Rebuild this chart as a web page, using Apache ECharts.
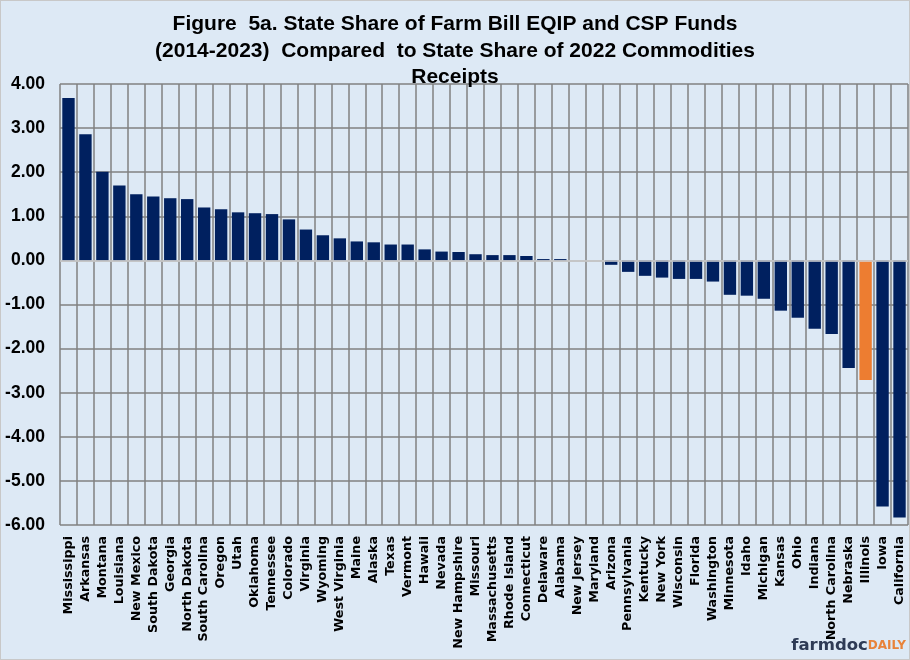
<!DOCTYPE html>
<html><head><meta charset="utf-8">
<script src="https://cdn.jsdelivr.net/npm/echarts@6/dist/echarts.min.js"></script>
<style>
html,body{margin:0;padding:0;background:#dde9f5;}
#c{width:908px;height:658px;border:1px solid #c8c8c8;}
</style></head>
<body><div id="c"></div>
<script>
const states = ["Mississippi","Arkansas","Montana","Louisiana","New Mexico","South Dakota","Georgia","North Dakota","South Carolina","Oregon","Utah","Oklahoma","Tennessee","Colorado","Virginia","Wyoming","West Virginia","Maine","Alaska","Texas","Vermont","Hawaii","Nevada","New Hampshire","Missouri","Massachusetts","Rhode Island","Connecticut","Delaware","Alabama","New Jersey","Maryland","Arizona","Pennsylvania","Kentucky","New York","Wisconsin","Florida","Washington","Minnesota","Idaho","Michigan","Kansas","Ohio","Indiana","North Carolina","Nebraska","Illinois","Iowa","California"];
const shareDiff = [3.68,2.86,2.01,1.70,1.50,1.45,1.41,1.39,1.20,1.16,1.09,1.07,1.05,0.93,0.70,0.57,0.50,0.43,0.41,0.36,0.36,0.25,0.20,0.19,0.14,0.12,0.12,0.10,0.03,0.03,0.00,0.00,-0.10,-0.26,-0.35,-0.39,-0.42,-0.42,-0.48,-0.78,-0.80,-0.87,-1.14,-1.30,-1.55,-1.67,-2.44,-2.71,-5.58,-5.83];
const highlightState = "Illinois";
const yTicks = {min:-6, max:4, interval:1};

const chart = echarts.init(document.getElementById('c'));
chart.setOption({
  backgroundColor:'#dde9f5',
  animation:false,
  title:{
    text:'Figure  5a. State Share of Farm Bill EQIP and CSP Funds\n(2014-2023)  Compared  to State Share of 2022 Commodities\nReceipts',
    left:'center', top:5,
    textStyle:{fontFamily:'Liberation Sans, Arial', fontWeight:'bold', fontSize:21, lineHeight:26.5, color:'#000'}
  },
  grid:{left:59, right:1, top:83, bottom:134, containLabel:false},
  xAxis:{
    type:'category', data:states,
    axisTick:{show:false},
    axisLine:{show:false},
    splitLine:{show:true, lineStyle:{color:'#808080', width:1.5}},
    axisLabel:{rotate:90, interval:0, margin:11, fontFamily:'DejaVu Sans', fontWeight:'bold', fontSize:12.7, color:'#000'}
  },
  yAxis:{
    type:'value', min:yTicks.min, max:yTicks.max, interval:yTicks.interval,
    axisLine:{show:false}, axisTick:{show:false},
    splitLine:{lineStyle:{color:'#808080', width:1.5}},
    axisLabel:{formatter:v=>v.toFixed(2), fontFamily:'Liberation Sans, Arial', fontWeight:'bold', fontSize:17.5, color:'#000', margin:15}
  },
  series:[{
    type:'bar', barCategoryGap:'27%',
    data:shareDiff.map((v,i)=>({value:v, itemStyle:{color: states[i]===highlightState ? '#ed7d31' : '#00205f'}})),
    markLine:{silent:true, symbol:'none', label:{show:false}, lineStyle:{color:'#d4d4d4', width:1.5, type:'solid'}, data:[{yAxis:0}]}
  }],
  graphic:[{
    type:'text', right:3, bottom:5,
    style:{text:'{a|farmdoc}{b|DAILY}', rich:{
      a:{fontFamily:'DejaVu Sans', fontWeight:'bold', fontSize:16.5, fill:'#2e3b55'},
      b:{fontFamily:'DejaVu Sans', fontWeight:'bold', fontSize:12, fill:'#e8833a'}
    }}
  }]
});
</script></body></html>
